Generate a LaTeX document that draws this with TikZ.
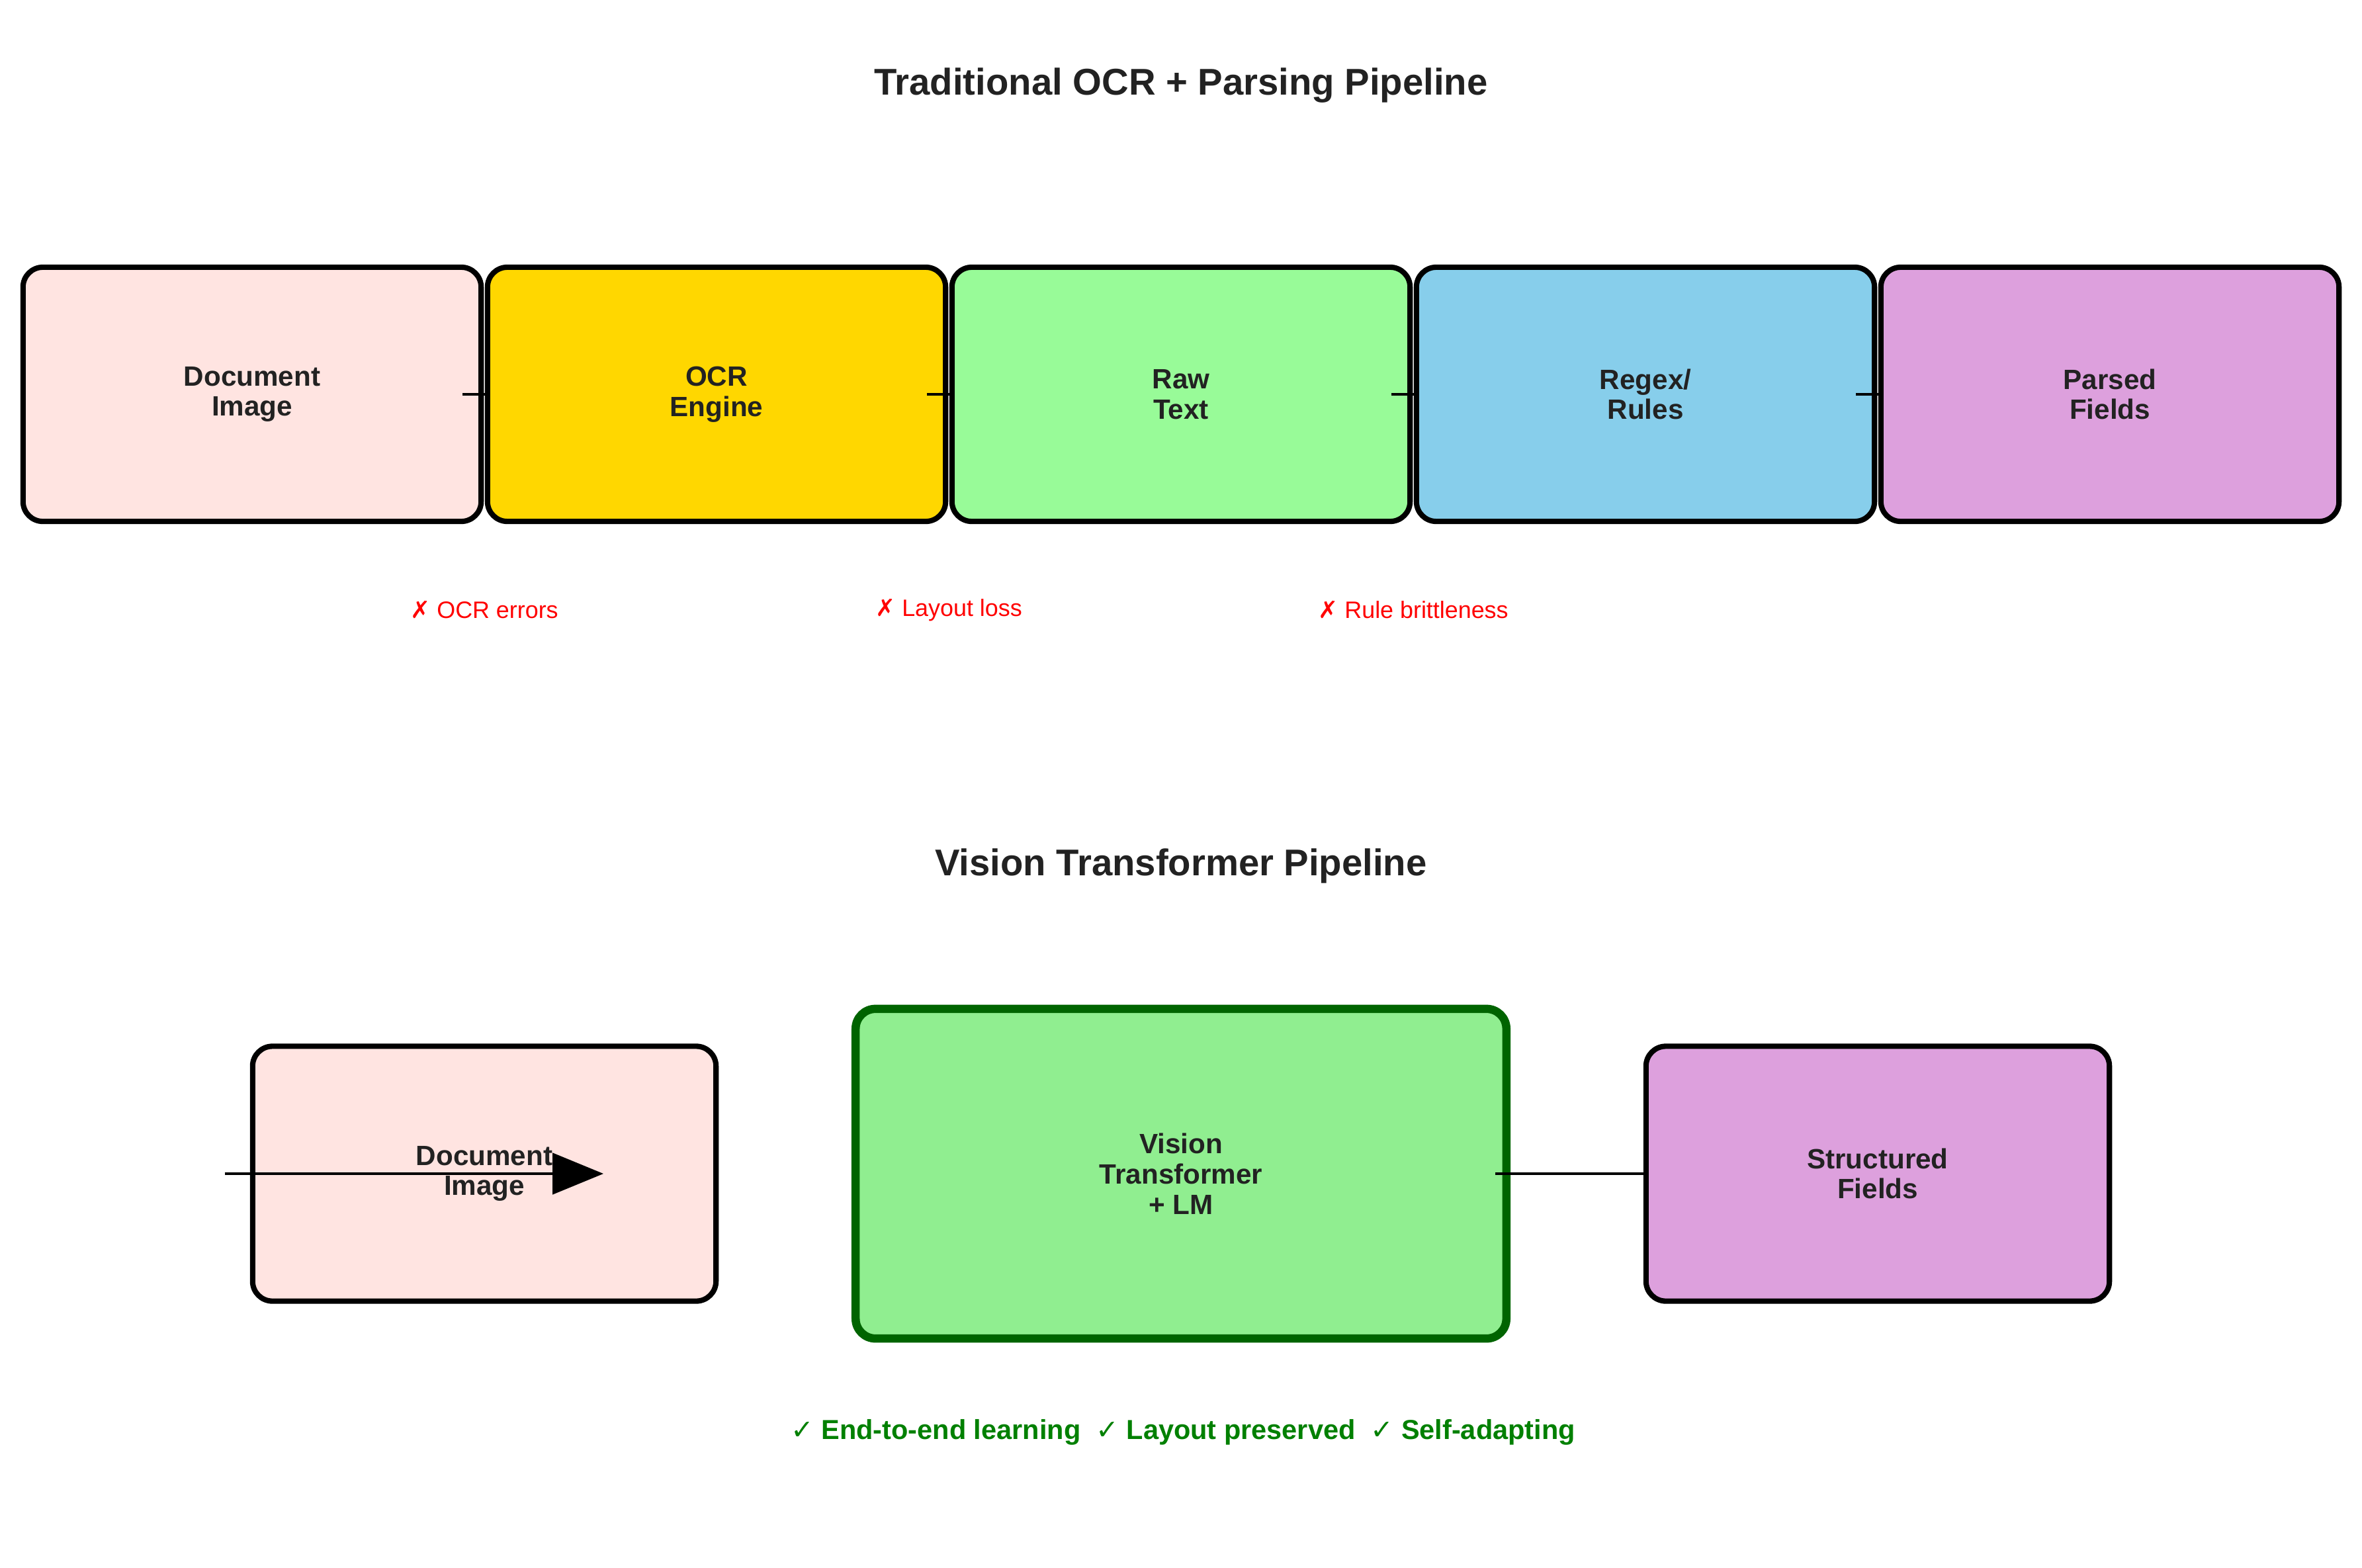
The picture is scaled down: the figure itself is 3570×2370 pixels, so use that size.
\documentclass[tikz,border=0pt]{standalone}
\usepackage{fontspec}
\setmainfont{Liberation Sans}
\newfontfamily\symfont{DejaVu Sans}
\usetikzlibrary{arrows.meta}
\definecolor{inkgray}{HTML}{222222}
\definecolor{docpink}{HTML}{FFE4E1}
\definecolor{ocrgold}{HTML}{FFD700}
\definecolor{rawgreen}{HTML}{98FB98}
\definecolor{ruleblue}{HTML}{87CEEB}
\definecolor{fieldplum}{HTML}{DDA0DD}
\definecolor{vitgreen}{HTML}{90EE90}
\definecolor{vitborder}{HTML}{006400}
\definecolor{goodgreen}{HTML}{008000}
\begin{document}
\begin{tikzpicture}[x=0.01cm,y=-0.01cm,
stagenode/.style={rectangle, rounded corners=0.3cm, draw=black, line width=2.3pt, text=inkgray, align=center, font=\bfseries\fontsize{12}{13}\selectfont, minimum width=6.92cm, minimum height=3.84cm},
bignode/.style={stagenode, minimum width=7cm, minimum height=3.85cm},
modelnode/.style={stagenode, draw=vitborder, line width=3.55pt, minimum width=9.83cm, minimum height=4.98cm},
titlenode/.style={text=inkgray, font=\bfseries\fontsize{16}{19}\selectfont},
flowline/.style={draw=black, line width=1.4pt},
]
\useasboundingbox (0,0) rectangle (3570,2370);
% traditional pipeline
\node[titlenode] (toptitle) at (1785,129) {Traditional OCR + Parsing Pipeline};
\node[stagenode, fill=docpink]   (image) at (381,596)  {Document\\Image};
\draw[flowline] ([xshift=-0.32cm]image.east) -- (image.east -| 734,0);
\node[stagenode, fill=ocrgold]   (ocr)   at (1083,596) {OCR\\Engine};
\draw[flowline] ([xshift=-0.32cm]ocr.east) -- (ocr.east -| 1436,0);
\node[stagenode, fill=rawgreen]  (raw)   at (1785,596) {Raw\\Text};
\draw[flowline] ([xshift=-0.32cm]raw.east) -- (raw.east -| 2138,0);
\node[stagenode, fill=ruleblue]  (rules) at (2487,596) {Regex/\\Rules};
\draw[flowline] ([xshift=-0.32cm]rules.east) -- (rules.east -| 2840,0);
\node[stagenode, fill=fieldplum] (parsed) at (3189,596) {Parsed\\Fields};
% weak points
\node[text=red, font=\fontsize{10.2}{12}\selectfont] (err1) at (732,922)  {{\symfont ✗} OCR errors};
\node[text=red, font=\fontsize{10.2}{12}\selectfont] (err2) at (1434,922) {{\symfont ✗} Layout loss};
\node[text=red, font=\fontsize{10.2}{12}\selectfont] (err3) at (2136,922) {{\symfont ✗} Rule brittleness};
% vision transformer pipeline
\node[titlenode] (bottitle) at (1785,1309) {Vision Transformer Pipeline};
\node[bignode, fill=docpink] (vdoc) at (732,1774) {Document\\Image};
\draw[flowline, -{Triangle[length=0.77cm, width=0.62cm]}] ([xshift=-0.38cm]vdoc.west) -- ([xshift=1.8cm]vdoc.center);
\node[modelnode, fill=vitgreen] (vit) at (1785,1774) {Vision\\Transformer\\+ LM};
\draw[flowline] ([xshift=-0.23cm]vit.east) -- (vit.east -| 2486,0);
\node[bignode, fill=fieldplum] (fields) at (2838,1774) {Structured\\Fields};
\node[text=goodgreen, font=\bfseries\fontsize{11.8}{13}\selectfont] (gains) at (1788,2165) {{\symfont ✓} End-to-end learning\ \ {\symfont ✓} Layout preserved\ \ {\symfont ✓} Self-adapting};
\end{tikzpicture}
\end{document}
